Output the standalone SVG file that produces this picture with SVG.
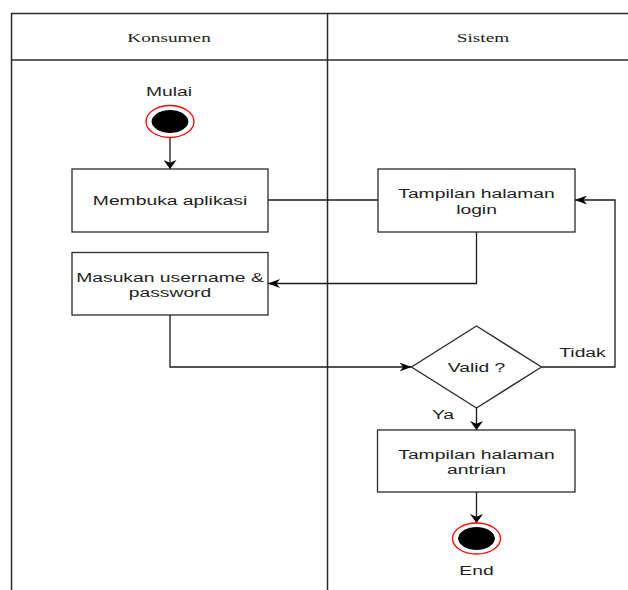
<svg xmlns="http://www.w3.org/2000/svg" width="628" height="590" viewBox="0 0 628 590">
  <style>
    .lane { fill: none; stroke: #2a2a2a; stroke-width: 1.5; }
    .box { fill: #ffffff; stroke: #2a2a2a; stroke-width: 1.3; }
    .edge { fill: none; stroke: #1a1a1a; stroke-width: 1.3; }
    .ring { fill: #ffffff; stroke: #ff0000; stroke-width: 1.3; }
    .dot { fill: #000000; stroke: #000000; stroke-width: 1; }
    .t { font-family: "Liberation Sans", Arial, sans-serif; font-size: 13.5px; fill: #1e1e1e; text-anchor: middle; }
    .h { font-family: "Liberation Serif", "Times New Roman", serif; font-size: 13.5px; fill: #222222; text-anchor: middle; }
  </style>
  <defs>
    <marker id="arrowV" viewBox="0 0 10 10" refX="10" refY="5" markerUnits="userSpaceOnUse" markerWidth="9" markerHeight="13" orient="auto" preserveAspectRatio="none">
      <path d="M0,0 L10,5 L0,10 L3,5 z" fill="#000000"/>
    </marker>
    <marker id="arrowH" viewBox="0 0 10 10" refX="10" refY="5" markerUnits="userSpaceOnUse" markerWidth="12" markerHeight="9" orient="auto" preserveAspectRatio="none">
      <path d="M0,0 L10,5 L0,10 L3,5 z" fill="#000000"/>
    </marker>
  </defs>
  <rect width="628" height="590" fill="#ffffff"/>

  <!-- swimlanes -->
  <g id="lanes">
    <path class="lane" d="M11.5,590 V13.5 H628"/>
    <path class="lane" d="M11.5,60 H628"/>
    <path class="lane" d="M327.5,13.5 V590"/>
    <text class="h" transform="translate(169,41.5) scale(1.43,1)">Konsumen</text>
    <text class="h" transform="translate(483,41.5) scale(1.43,1)">Sistem</text>
  </g>

  <!-- connectors -->
  <g id="connectors">
    <path class="edge" d="M170,138 V169" marker-end="url(#arrowV)"/>
    <path class="edge" d="M268,200 H378"/>
    <path class="edge" d="M476.5,232 V283.5 H268" marker-end="url(#arrowH)"/>
    <path class="edge" d="M170,315 V367 H411.5" marker-end="url(#arrowH)"/>
    <path class="edge" d="M541.5,367 H615 V200 H575" marker-end="url(#arrowH)"/>
    <path class="edge" d="M476.5,408 V430" marker-end="url(#arrowV)"/>
    <path class="edge" d="M476.5,492 V523" marker-end="url(#arrowV)"/>
    <text class="t" transform="translate(582.5,356.5) scale(1.43,1)">Tidak</text>
    <text class="t" transform="translate(443,419) scale(1.43,1)">Ya</text>
  </g>

  <g id="start">
    <text class="t" transform="translate(169,96) scale(1.43,1)">Mulai</text>
    <ellipse class="ring" cx="170" cy="121.5" rx="24" ry="16"/>
    <ellipse class="dot" cx="170" cy="121.5" rx="18" ry="11"/>
  </g>

  <g id="membuka-aplikasi">
    <rect class="box" x="72" y="169" width="196" height="63"/>
    <text class="t" transform="translate(170,205) scale(1.43,1)">Membuka aplikasi</text>
  </g>

  <g id="masukan-username">
    <rect class="box" x="72" y="252.5" width="196" height="62.5"/>
    <text class="t" transform="translate(170,281.5) scale(1.43,1)">Masukan username &amp;</text>
    <text class="t" transform="translate(170,296.5) scale(1.43,1)">password</text>
  </g>

  <g id="halaman-login">
    <rect class="box" x="378" y="169" width="197" height="63"/>
    <text class="t" transform="translate(476.5,198) scale(1.43,1)">Tampilan halaman</text>
    <text class="t" transform="translate(476.5,214) scale(1.43,1)">login</text>
  </g>

  <g id="valid">
    <path class="box" d="M476.5,326 L541.5,367 L476.5,408 L411.5,367 Z"/>
    <text class="t" transform="translate(476.5,372) scale(1.43,1)">Valid ?</text>
  </g>

  <g id="halaman-antrian">
    <rect class="box" x="377.5" y="430" width="197.5" height="62"/>
    <text class="t" transform="translate(476.5,458.5) scale(1.43,1)">Tampilan halaman</text>
    <text class="t" transform="translate(476.5,473.5) scale(1.43,1)">antrian</text>
  </g>

  <g id="end">
    <ellipse class="ring" cx="476.5" cy="538.5" rx="24" ry="15.5"/>
    <ellipse class="dot" cx="476.5" cy="538.5" rx="18" ry="11"/>
    <text class="t" transform="translate(476.5,575) scale(1.43,1)">End</text>
  </g>
</svg>
